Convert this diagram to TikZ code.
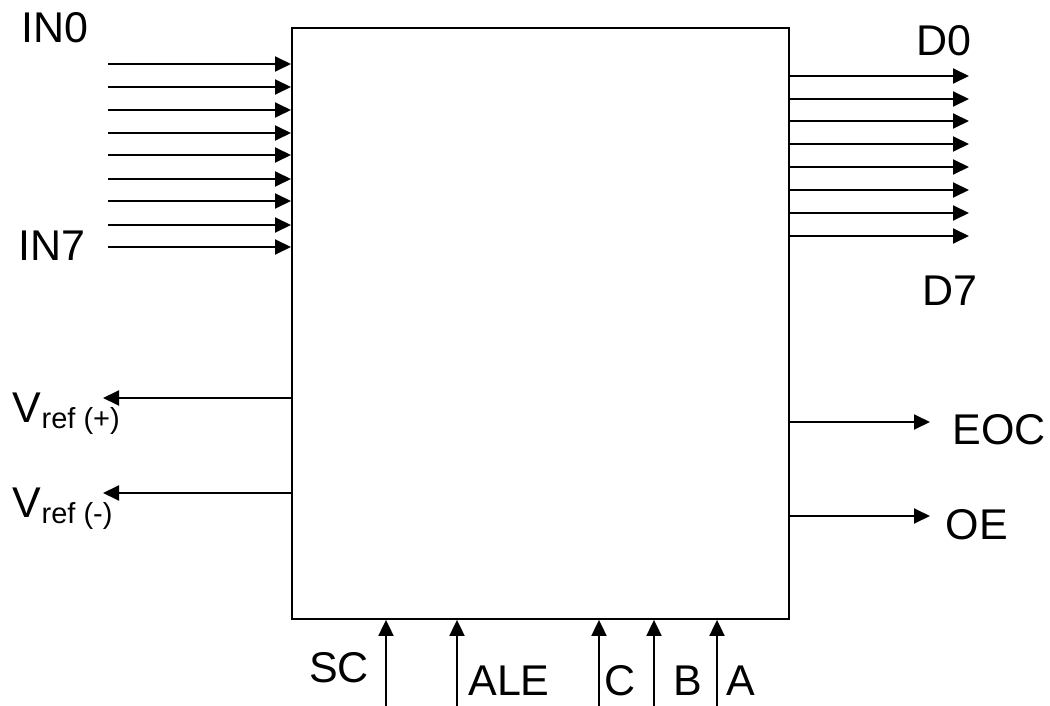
\documentclass[tikz,border=0pt]{standalone}
\usepackage{fontspec}
\setmainfont{Liberation Sans}
\usetikzlibrary{arrows.meta}
\begin{document}
\begin{tikzpicture}[x=1pt,y=-1pt,line width=1.9pt,
  sig/.style={-{Triangle[length=16pt,width=15pt]}},
  lbl/.style={font=\fontsize{43}{50}\selectfont,inner sep=0pt,anchor=base}]
\useasboundingbox (0,0) rectangle (1050,706);
\node[draw,minimum width=497pt,minimum height=591pt,inner sep=0pt,anchor=north west] (chip) at (291,27) {};
% inputs
\foreach \y [count=\i] in {64,87,110,133,155,179,201,225,247} {
  \coordinate (in\i) at (108,\y);
  \draw[sig] (in\i) -- (in\i -| chip.west);
}
% outputs
\foreach \y [count=\i] in {76,99,121,144,167,190,213,236} {
  \coordinate (d\i) at (969,\y);
  \draw[sig] (d\i -| chip.east) -- (d\i);
}
% vref
\coordinate (vp) at (103,398);
\coordinate (vm) at (103,493);
\draw[sig] (vp -| chip.west) -- (vp);
\draw[sig] (vm -| chip.west) -- (vm);
% eoc, oe
\coordinate (eoc) at (930,422);
\coordinate (oe) at (930,516);
\draw[sig] (eoc -| chip.east) -- (eoc);
\draw[sig] (oe -| chip.east) -- (oe);
% bottom
\foreach \n/\x in {sc/386,ale/457,c/599,b/654,a/717} {
  \coordinate (\n) at (\x,706);
  \draw[sig] (\n) -- (\n |- chip.south);
}
% labels
\node[lbl] (lin0) at (55,43) {IN0};
\node[lbl] (lin7) at (52,260) {IN7};
\node[lbl] (ld0) at (944,56) {D0};
\node[lbl] (ld7) at (950,305) {D7};
\node[lbl] (leoc) at (999,444) {EOC};
\node[lbl] (loe) at (977,539) {OE};
\node[lbl] (lsc) at (339,682) {SC};
\node[lbl] (lale) at (509,695) {ALE};
\node[lbl] (lc) at (620,695) {C};
\node[lbl] (lb) at (688,695) {B};
\node[lbl] (la) at (741,695) {A};
\node[lbl,anchor=base west] (lvp) at (12,422) {V\raisebox{-6pt}{\fontsize{29}{32}\selectfont ref (+)}};
\node[lbl,anchor=base west] (lvm) at (12,517) {V\raisebox{-6pt}{\fontsize{29}{32}\selectfont ref (-)}};
\end{tikzpicture}
\end{document}
